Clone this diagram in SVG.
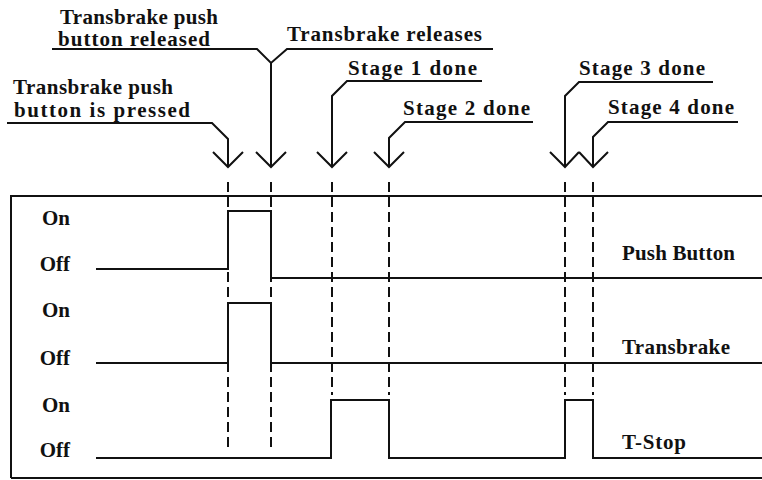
<svg xmlns="http://www.w3.org/2000/svg" width="762" height="480" viewBox="0 0 762 480">
<style>
text{font-family:"Liberation Serif","Times New Roman",serif;font-weight:bold;font-size:21px;fill:#111}
.ln{fill:none;stroke:#111;stroke-width:2;stroke-linejoin:miter}
.ds{fill:none;stroke:#111;stroke-width:2;stroke-dasharray:10 5}
.lvl{text-anchor:end}
</style>
<rect width="762" height="480" fill="#fff"/>
<g id="frame">
<path class="ln" d="M11,196 H762 M11,195 V478 M11,478 H762"/>
</g>
<g id="labels-left">
<text class="lvl" x="70" y="225">On</text>
<text class="lvl" x="70" y="271">Off</text>
<text class="lvl" x="70" y="317">On</text>
<text class="lvl" x="70" y="365">Off</text>
<text class="lvl" x="70" y="412">On</text>
<text class="lvl" x="70" y="457">Off</text>
</g>
<g id="signal-pushbutton">
<path class="ln" d="M96,269 H228 V211 H271 V278 H762"/>
<text x="622" y="260" textLength="113" lengthAdjust="spacing">Push Button</text>
</g>
<g id="signal-transbrake">
<path class="ln" d="M96,363 H228 V303 H271 V363 H762"/>
<text x="622" y="354" textLength="108" lengthAdjust="spacing">Transbrake</text>
</g>
<g id="signal-tstop">
<path class="ln" d="M96,458 H331 V400 H389 V458 H565 V400 H593 V458 H762"/>
<text x="622" y="449" textLength="64" lengthAdjust="spacing">T-Stop</text>
</g>
<g id="connectors">
<path class="ds" d="M228,182 V452 M271,182 V452 M332,182 V395 M389,182 V395 M565,182 V395 M593,182 V395"/>
<path class="ln" d="M7,123 H212 L228,139 V167 M213,152 L228,167 L243,152"/>
<path class="ln" d="M52,49 H257 L271,63 L287,49 H493 M271,63 V167 M256,152 L271,167 L286,152"/>
<path class="ln" d="M482,81 H347 L332,96 V167 M317,152 L332,167 L347,152"/>
<path class="ln" d="M533,122 H405 L389,138 V167 M374,152 L389,167 L404,152"/>
<path class="ln" d="M713,82 H579 L565,96 V167 M550,152 L565,167 L579,152"/>
<path class="ln" d="M738,122 H608 L593,137 V167 M579,152 L593,167 L608,152"/>
</g>
<g id="event-pressed">
<text x="13" y="94" textLength="160" lengthAdjust="spacing">Transbrake push</text>
<text x="14" y="117" textLength="176" lengthAdjust="spacing">button is pressed</text>
</g>
<g id="event-released">
<text x="60" y="24" textLength="158" lengthAdjust="spacing">Transbrake push</text>
<text x="58" y="46" textLength="152" lengthAdjust="spacing">button released</text>
</g>
<g id="event-releases">
<text x="287" y="41" textLength="195" lengthAdjust="spacing">Transbrake releases</text>
</g>
<g id="event-stage1">
<text x="348" y="75" textLength="129" lengthAdjust="spacing">Stage 1 done</text>
</g>
<g id="event-stage2">
<text x="403" y="115" textLength="127" lengthAdjust="spacing">Stage 2 done</text>
</g>
<g id="event-stage3">
<text x="579" y="75" textLength="126" lengthAdjust="spacing">Stage 3 done</text>
</g>
<g id="event-stage4">
<text x="608" y="114" textLength="126" lengthAdjust="spacing">Stage 4 done</text>
</g>
</svg>
